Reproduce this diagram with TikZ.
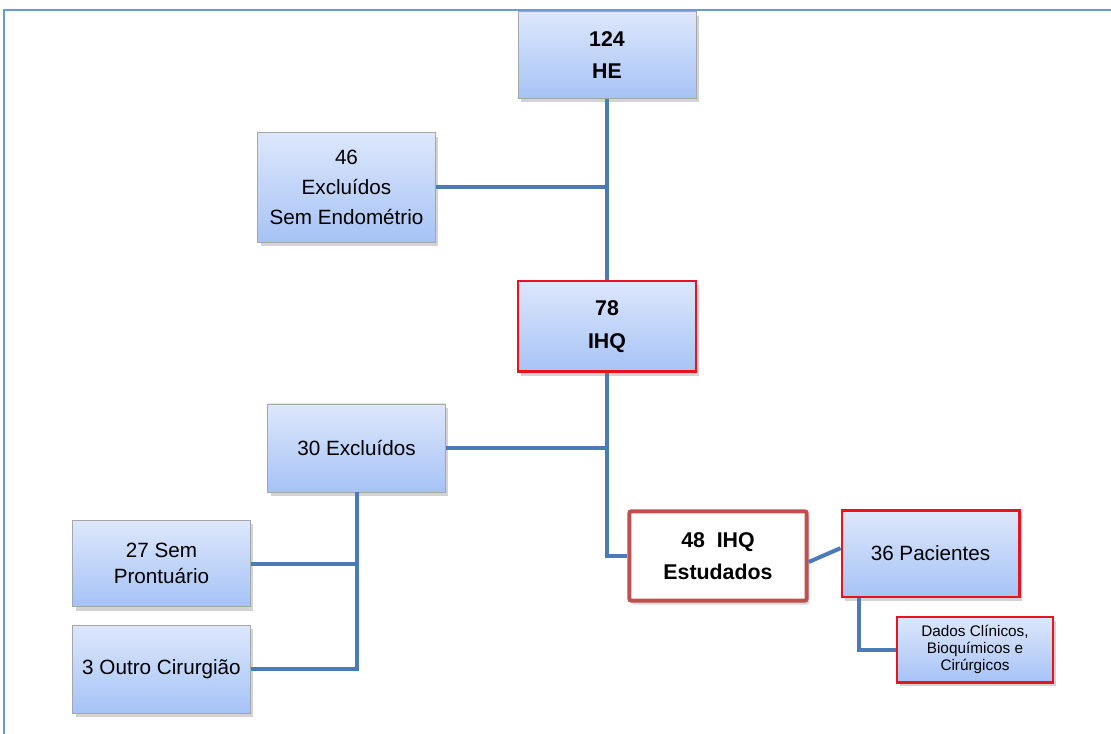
\documentclass[tikz,border=0pt]{standalone}
\usepackage{fontspec}
\setmainfont{Liberation Sans}
\usetikzlibrary{shadows}

\definecolor{linkblue}{HTML}{4A7AB8}
\definecolor{frameblue}{HTML}{6C9BD2}
\definecolor{boxtop}{HTML}{DDE7FB}
\definecolor{boxbottom}{HTML}{A6C3F6}
\definecolor{boxred}{HTML}{E8141B}
\definecolor{softred}{HTML}{C0504D}

\tikzset{
  box/.style={draw=gray!70, line width=0.6pt, top color=boxtop, bottom color=boxbottom,
    align=center, inner sep=2pt, minimum width=133pt, minimum height=65pt,
    font=\fontsize{15.5}{22.5}\selectfont,
    drop shadow={opacity=0.35, shadow xshift=2pt, shadow yshift=-3pt}},
  redbox/.style={box, draw=boxred, line width=2pt},
  link/.style={draw=linkblue, line width=3pt}
}

\begin{document}
\begin{tikzpicture}[x=0.75pt, y=-0.75pt]
    \useasboundingbox (0,0) rectangle (1111,734);
    % frame
    \draw[frameblue, line width=1.5pt] (4,734) -- (4,10) -- (1111,10);
    % boxes
    \node[box, minimum width=133.5pt, font=\bfseries\fontsize{16}{24}\selectfont] (he) at (607,55) {124\\HE};
    \node[box, minimum height=82pt] (exclA) at (346.5,187.5) {46\\Excluídos\\Sem Endométrio};
    \node[redbox, minimum width=133.5pt, minimum height=68pt, font=\bfseries\fontsize{16}{25}\selectfont] (ihq) at (607,326.5) {78\\IHQ};
    \node[box, minimum height=66pt] (exclB) at (356.5,448) {30 Excluídos};
    \node[box, font=\fontsize{15.5}{19}\selectfont] (semp) at (161.5,563.5) {27 Sem\\Prontuário};
    \node[box, minimum height=66pt] (outro) at (161.5,669) {3 Outro Cirurgião};
    \node[draw=softred, line width=3pt, rounded corners=1.5pt, fill=white, align=center,
      minimum width=133pt, minimum height=67pt, font=\bfseries\fontsize{16}{24}\selectfont,
      drop shadow={opacity=0.3, shadow xshift=2pt, shadow yshift=-3pt}] (estud) at (718,556) {48~~IHQ\\Estudados};
    \node[redbox] (pac) at (930.5,553.5) {36 Pacientes};
    \node[redbox, minimum width=117pt, minimum height=49pt, font=\fontsize{11.5}{12.5}\selectfont] (dados) at (975,649.5) {Dados Clínicos,\\Bioquímicos e\\Cirúrgicos};
    % connectors
    \draw[link] (he.south) -- (ihq.north);
    \draw[link] (exclA.east) -- (exclA.east -| he.south);
    \draw[link] (ihq.south) |- (estud.west);
    \draw[link] (exclB.east) -- (exclB.east -| ihq.south);
    \draw[link] (exclB.south) |- (outro.east);
    \draw[link] (semp.east) -- (semp.east -| exclB.south);
    \draw[link] ([yshift=-4.5pt]estud.east) -- ([yshift=4pt]pac.west);
    \draw[link] ([xshift=13.5pt]pac.south west) |- (dados.west);
\end{tikzpicture}
\end{document}
